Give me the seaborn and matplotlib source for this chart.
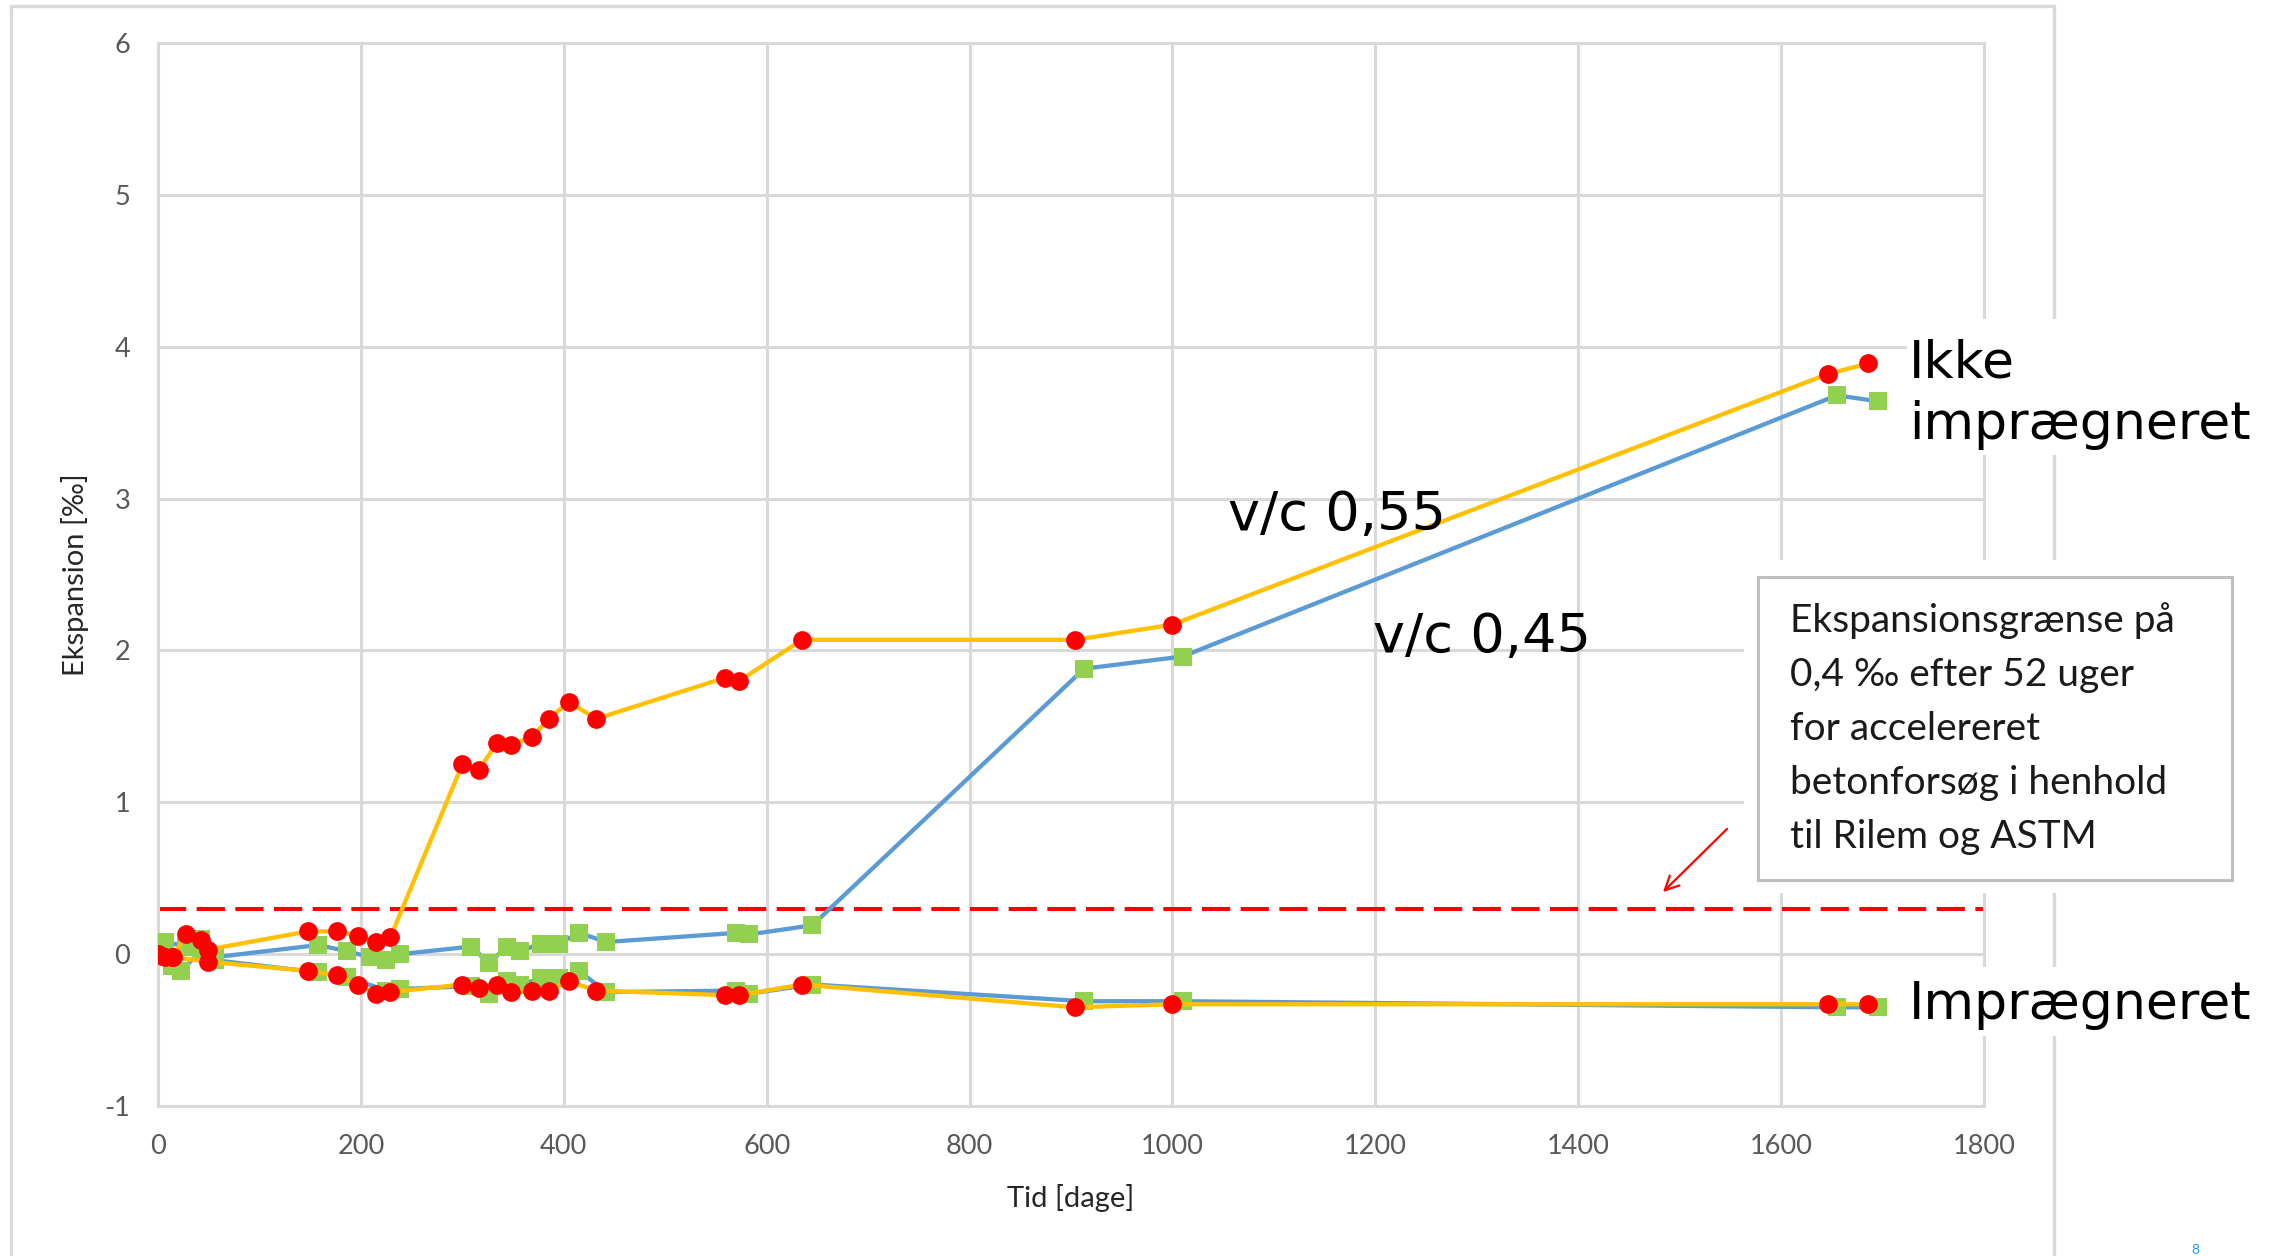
import matplotlib
matplotlib.use("Agg")
import matplotlib.pyplot as plt
from matplotlib.patches import Rectangle, FancyArrowPatch
import seaborn as sns
import pandas as pd

# ---- measurements: time [days] and expansion [per mille] ----
days_055_ikke = [0, 4, 14, 28, 42, 49, 148, 176, 197, 215, 229, 300, 316, 334, 348,
                 369, 385, 405, 432, 559, 573, 635, 904, 1000, 1646, 1686]
exp_055_ikke = [0.00, -0.01, -0.02, 0.13, 0.09, 0.03, 0.15, 0.15, 0.12, 0.08, 0.11,
                1.25, 1.21, 1.39, 1.38, 1.43, 1.55, 1.66, 1.55, 1.82, 1.80, 2.07,
                2.07, 2.17, 3.82, 3.89]

days_055_impr = [0, 7, 15, 49, 148, 176, 197, 215, 229, 300, 316, 334, 348, 369,
                 385, 405, 432, 559, 573, 635, 904, 1000, 1646, 1686]
exp_055_impr = [0.00, -0.02, -0.02, -0.05, -0.11, -0.14, -0.20, -0.26, -0.25, -0.20,
                -0.22, -0.20, -0.25, -0.24, -0.24, -0.18, -0.24, -0.27, -0.27, -0.20,
                -0.35, -0.33, -0.33, -0.33]

days_045_ikke = [0, 7, 28, 42, 56, 158, 186, 209, 225, 239, 309, 326, 344, 357, 378,
                 395, 415, 442, 570, 583, 645, 913, 1010, 1655, 1696]
exp_045_ikke = [0.03, 0.08, 0.05, 0.10, -0.02, 0.06, 0.02, -0.02, -0.04, 0.00, 0.05,
                -0.06, 0.05, 0.02, 0.07, 0.07, 0.14, 0.08, 0.14, 0.13, 0.19, 1.88,
                1.96, 3.68, 3.64]

days_045_impr = [0, 14, 23, 42, 56, 158, 186, 225, 239, 309, 326, 344, 357, 378, 395,
                 415, 442, 570, 583, 645, 913, 1010, 1655, 1696]
exp_045_impr = [0.02, -0.08, -0.11, 0.02, -0.04, -0.12, -0.15, -0.24, -0.23, -0.21,
                -0.26, -0.18, -0.20, -0.16, -0.16, -0.11, -0.25, -0.24, -0.26, -0.20,
                -0.31, -0.31, -0.35, -0.35]

limit_value = 0.3
x_ticks = [0, 200, 400, 600, 800, 1000, 1200, 1400, 1600, 1800]
y_ticks = [-1, 0, 1, 2, 3, 4, 5, 6]

label_055 = "v/c 0,55"
label_045 = "v/c 0,45"
label_ikke = ["Ikke", "imprægneret"]
label_impr = "Imprægneret"
box_lines = ["Ekspansionsgrænse på", "0,4 \u2030 efter 52 uger", "for accelereret",
             "betonforsøg i henhold", "til Rilem og ASTM"]
x_title = "Tid [dage]"
y_title = "Ekspansion [\u2030]"

# ---- style ----
sns.set_style("white")
plt.rcParams["font.family"] = ["Lato", "DejaVu Sans"]
plt.rcParams["axes.unicode_minus"] = False

W, H = 2271, 1256
fig = plt.figure(figsize=(W / 100, H / 100), dpi=100)
fig.patch.set_facecolor("white")


def fx(px):
    return px / W


def fy(py):
    return 1 - py / H


ax_left, ax_right, ax_top, ax_bottom = 158, 1984, 43, 1106
ax = fig.add_axes([fx(ax_left), fy(ax_bottom), fx(ax_right - ax_left),
                   (ax_bottom - ax_top) / H])

GRID = "#d9d9d9"
YELLOW = "#FFC000"
BLUE = "#5B9BD5"
RED = "#FF0000"
GREEN = "#92D050"

series = [
    (days_045_ikke, exp_045_ikke, BLUE, GREEN, "s", 12.5),
    (days_045_impr, exp_045_impr, BLUE, GREEN, "s", 12.5),
    (days_055_ikke, exp_055_ikke, YELLOW, RED, "o", 13.5),
    (days_055_impr, exp_055_impr, YELLOW, RED, "o", 13.5),
]
for i, (d, v, lc, mc, mk, ms) in enumerate(series):
    df = pd.DataFrame({"dage": d, "eksp": v})
    sns.lineplot(data=df, x="dage", y="eksp", ax=ax, color=lc, linewidth=3.1,
                 marker=mk, markersize=ms, markerfacecolor=mc,
                 markeredgewidth=0, estimator=None, sort=False, zorder=3 + i)

ax.axhline(limit_value, color=RED, linewidth=2.9, dashes=(7, 2.6), zorder=2)

ax.set_xlim(0, 1800)
ax.set_ylim(-1, 6)
ax.set_xticks(x_ticks)
ax.set_yticks(y_ticks)
ax.grid(True, color=GRID, linewidth=2.2, zorder=0)
ax.set_axisbelow(True)
for s in ax.spines.values():
    s.set_color(GRID)
    s.set_linewidth(2.2)

ax.tick_params(axis="x", length=0, pad=20, labelsize=19.5, labelcolor="#595959")
ax.tick_params(axis="y", length=6, width=2.2, color=GRID, pad=14, labelsize=19.5,
               labelcolor="#595959")

ax.set_xlabel(x_title, fontsize=21, color="#262626", va="center")
ax.xaxis.set_label_coords(0.5, -(1198 - ax_bottom) / (ax_bottom - ax_top))
ax.set_ylabel(y_title, fontsize=21, color="#262626", va="center")
ax.yaxis.set_label_coords(-(ax_left - 75) / (ax_right - ax_left), 0.5)

# ---- chart area frame ----
fig.patches.append(Rectangle((fx(11), fy(1400)), fx(2054 - 11), (1400 - 5.7) / H,
                             transform=fig.transFigure, fill=False,
                             edgecolor=GRID, linewidth=2.4, zorder=0.5))


# white backgrounds behind the side labels and the note box
def white_box(x0, y0, x1, y1):
    fig.patches.append(Rectangle((fx(x0), fy(y1)), fx(x1 - x0), (y1 - y0) / H,
                                 transform=fig.transFigure, facecolor="white",
                                 edgecolor="none", zorder=2))


white_box(1907, 319, 2271, 455)
white_box(1907, 967, 2271, 1036)
white_box(1744, 560, 2246, 893)
fig.patches.append(Rectangle((fx(1758), fy(880)), fx(2232 - 1758), (880 - 577) / H,
                             transform=fig.transFigure, facecolor="white",
                             edgecolor="#bfbfbf", linewidth=2.2, zorder=2.5))

# ---- labels ----
big = dict(family=["DejaVu Sans"], color="black", va="baseline", ha="left", zorder=4)
fig.text(fx(1228), fy(530), label_055, fontsize=39, **big)
fig.text(fx(1373), fy(652), label_045, fontsize=39, **big)
fig.text(fx(1909), fy(377), label_ikke[0], fontsize=37.5, **big)
fig.text(fx(1909), fy(439), label_ikke[1], fontsize=37.5, **big)
fig.text(fx(1909), fy(1019), label_impr, fontsize=37.5, **big)

for k, line in enumerate(box_lines):
    fig.text(fx(1790), fy(632 + 54 * k), line, fontsize=28, color="#1a1a1a",
             va="baseline", ha="left", zorder=4, family=["Lato", "DejaVu Sans"])

# arrow pointing at the limit line
fig.add_artist(FancyArrowPatch(
    (fx(1729), fy(827)), (fx(1661), fy(894)), transform=fig.transFigure,
    arrowstyle="->,head_length=10,head_width=5", color=RED, linewidth=1.6,
    zorder=4))

fig.text(fx(2195), fy(1250), "8", fontsize=10, color="#1e9bf0", ha="center",
         va="center")

fig.savefig("out.png", dpi=100, facecolor="white")
